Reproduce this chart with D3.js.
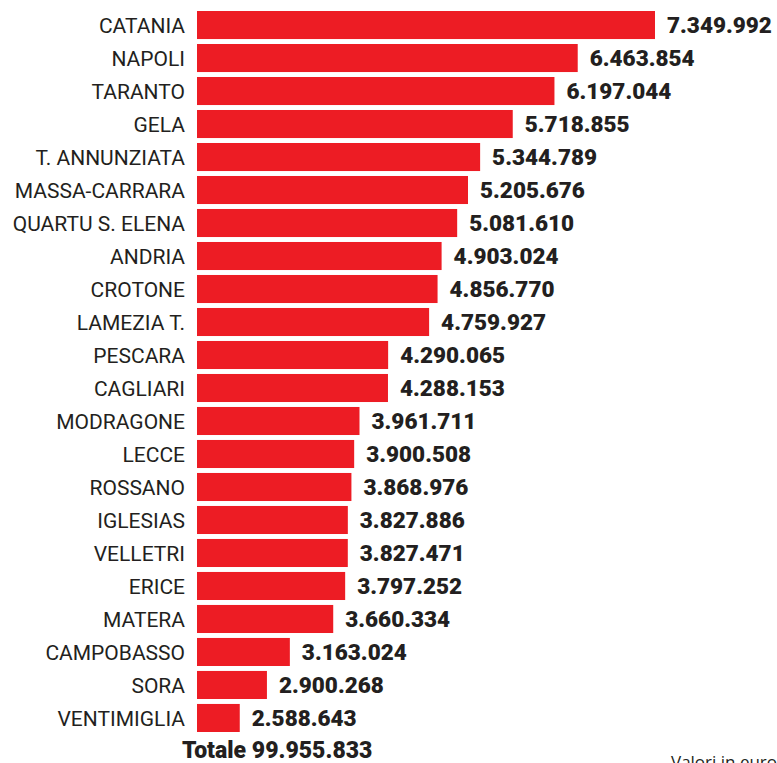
<html>
<head>
    <meta charset="utf-8">
    <style>
        body { margin: 0; background: #fff; }
    </style>
</head>
<body>
    <div id="grafico"></div>
    <script src="https://d3js.org/d3.v7.min.js"></script>
    <script>
        // Dati
        const citta = ["CATANIA", "NAPOLI", "TARANTO", "GELA", "T. ANNUNZIATA", "MASSA-CARRARA",
            "QUARTU S. ELENA", "ANDRIA", "CROTONE", "LAMEZIA T.", "PESCARA", "CAGLIARI",
            "MODRAGONE", "LECCE", "ROSSANO", "IGLESIAS", "VELLETRI", "ERICE", "MATERA",
            "CAMPOBASSO", "SORA", "VENTIMIGLIA"];
        const valori = [7349992, 6463854, 6197044, 5718855, 5344789, 5205676, 5081610, 4903024,
            4856770, 4759927, 4290065, 4288153, 3961711, 3900508, 3868976, 3827886, 3827471,
            3797252, 3660334, 3163024, 2900268, 2588643];
        const totale = 99955833;

        const data = citta.map((c, i) => ({ nome: c, valore: valori[i] }));

        const W = 777, H = 763;
        const barLeft = 197;

        // Numeri con punto nelle migliaia
        const format = d => d.toString().replace(/\B(?=(\d{3})+(?!\d))/g, ".");

        const svg = d3.select("#grafico")
            .append("svg")
            .attr("width", W)
            .attr("height", H);

        const x = d3.scaleLinear()
            .domain([0, d3.max(valori)])
            .range([14, 655]);

        const y = d3.scaleBand()
            .domain(citta)
            .range([11, 732])
            .paddingInner(0.15)
            .paddingOuter(0);

        // Barre
        svg.selectAll("rect.bar")
            .data(data)
            .join("rect")
            .attr("class", "bar")
            .attr("x", barLeft)
            .attr("y", d => y(d.nome))
            .attr("width", d => x(d.valore) - barLeft)
            .attr("height", y.bandwidth())
            .attr("fill", "#ed1c24");

        // Etichette città
        svg.selectAll("text.nome")
            .data(data)
            .join("text")
            .attr("class", "nome")
            .attr("x", 185)
            .attr("y", d => y(d.nome) + y.bandwidth() / 2)
            .attr("dy", "0.36em")
            .attr("text-anchor", "end")
            .style("font-family", "Roboto, sans-serif")
            .style("font-size", "21px")
            .style("fill", "#231f20")
            .text(d => d.nome);

        // Valori
        svg.selectAll("text.valore")
            .data(data)
            .join("text")
            .attr("class", "valore")
            .attr("x", d => x(d.valore) + 12)
            .attr("y", d => y(d.nome) + y.bandwidth() / 2)
            .attr("dy", "0.36em")
            .style("font-family", "Roboto, sans-serif")
            .style("font-weight", "900")
            .style("font-size", "22.5px")
            .style("fill", "#231f20")
            .text(d => format(d.valore));

        // Totale
        svg.append("text")
            .attr("x", 182)
            .attr("y", 758)
            .style("font-family", "Roboto, sans-serif")
            .style("font-weight", "900")
            .style("font-size", "23px")
            .style("fill", "#231f20")
            .text("Totale " + format(totale));

        // Nota
        svg.append("text")
            .attr("x", 671)
            .attr("y", 768)
            .style("font-family", "'Open Sans', sans-serif")
            .style("font-size", "17px")
            .style("fill", "#231f20")
            .text("Valori in euro");
    </script>
</body>
</html>
